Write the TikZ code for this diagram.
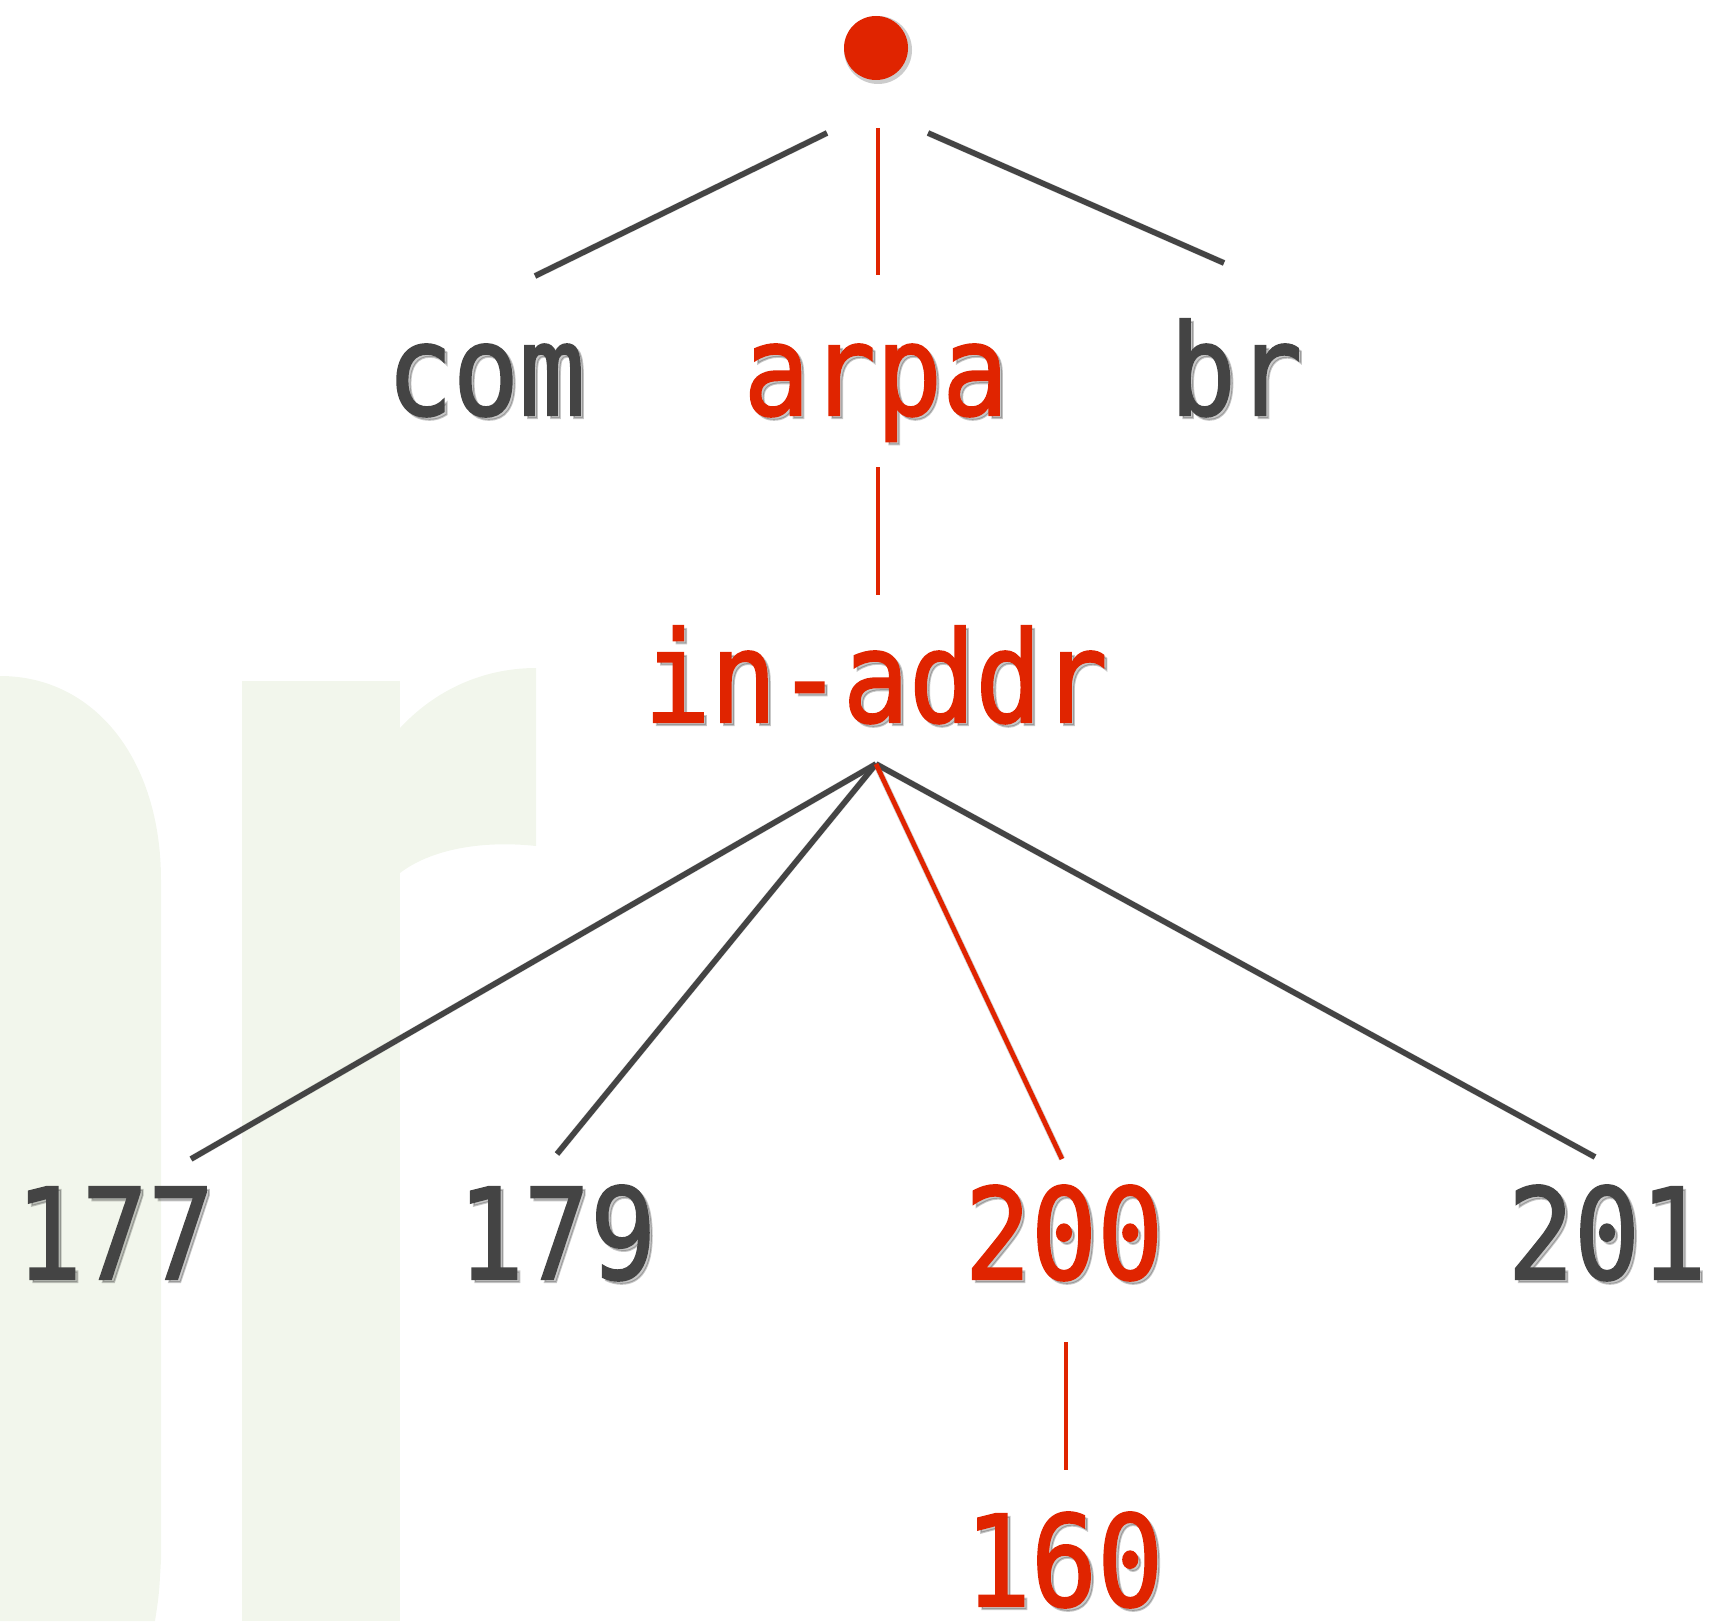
\documentclass[tikz,border=0pt]{standalone}
\usepackage{fontspec}
\newfontfamily\labelfont[RawFeature={embolden=1.6}]{DejaVu Sans Mono}
\definecolor{inkgray}{RGB}{68,68,68}
\definecolor{inkred}{RGB}{224,36,0}
\definecolor{wmgreen}{RGB}{242,246,236}
\tikzset{
  lbl/.style={anchor=base, inner sep=0pt, font=\labelfont\fontsize{55}{60}\selectfont},
  graylbl/.style={lbl, text=inkgray},
  redlbl/.style={lbl, text=inkred},
  shadowlbl/.style={lbl, text=black, opacity=0.22},
  edgegray/.style={draw=inkgray, line width=2.8pt},
  edgered/.style={draw=inkred, line width=2.4pt},
  edgeshadow/.style={draw=black, opacity=0.16, line width=3.2pt},
}
\newcommand{\tall}[1]{\scalebox{1}[1.15]{#1}}
\begin{document}
\begin{tikzpicture}[x=0.5pt,y=-0.5pt]
\useasboundingbox (0,0) rectangle (1711,1621);
% watermark
\fill[wmgreen] (0,676) .. controls (95,676) and (161,760) .. (161,880) -- (161,1560) .. controls (159,1595) .. (155,1621) -- (0,1621) -- cycle;
\fill[wmgreen] (242,681) rectangle (400,1621);
\fill[wmgreen] (400,728) .. controls (440,685) and (490,668) .. (536,668) -- (536,846) .. controls (480,840) and (430,850) .. (400,873) -- cycle;
% root
\node[circle, fill=black, opacity=0.2, minimum size=34pt, inner sep=0pt] (rootshadow) at (878,50) {};
\node[circle, fill=inkred, minimum size=32pt, inner sep=0pt] (root) at (876,48) {};
% labels: shadows
\node[shadowlbl] (scom) at (489,418) {\tall{com}};
\node[shadowlbl] (sarpa) at (879,418) {\tall{arpa}};
\node[shadowlbl] (sbr) at (1239,418) {\tall{br}};
\node[shadowlbl] (sinaddr) at (879,725) {\tall{in-addr}};
\node[shadowlbl] (s177) at (118,1282) {\tall{177}};
\node[shadowlbl] (s179) at (560,1282) {\tall{179}};
\node[shadowlbl] (s200) at (1067,1282) {\tall{200}};
\node[shadowlbl] (s201) at (1610,1282) {\tall{201}};
\node[shadowlbl] (s160) at (1067,1609) {\tall{160}};
% labels
\node[graylbl] (com) at (486,415) {\tall{com}};
\node[redlbl] (arpa) at (876,415) {\tall{arpa}};
\node[graylbl] (br) at (1236,415) {\tall{br}};
\node[redlbl] (inaddr) at (876,722) {\tall{in-addr}};
\node[graylbl] (n177) at (115,1279) {\tall{177}};
\node[graylbl] (n179) at (557,1279) {\tall{179}};
\node[redlbl] (n200) at (1064,1279) {\tall{200}};
\node[graylbl] (n201) at (1607,1279) {\tall{201}};
\node[redlbl] (n160) at (1064,1606) {\tall{160}};
% connector end points
\coordinate (rc) at (827,133); \coordinate (cr) at (535,276);
\coordinate (ra) at (878,128); \coordinate (ar) at (878,275);
\coordinate (rb) at (928,133); \coordinate (br1) at (1224,263);
\coordinate (ai) at (878,467); \coordinate (ia) at (878,595);
\coordinate (apex) at (876,764);
\coordinate (e177) at (191,1159);
\coordinate (e179) at (557,1154);
\coordinate (e200) at (1062,1159);
\coordinate (e201) at (1595,1157);
\coordinate (t200) at (1066,1342); \coordinate (t160) at (1066,1470);
% shadows of connectors
\begin{scope}[shift={(3,3)}]
\draw[edgeshadow] (rc) -- (cr);
\draw[edgeshadow] (rb) -- (br1);
\draw[edgeshadow] (apex) -- (e177);
\draw[edgeshadow] (apex) -- (e179);
\draw[edgeshadow] (apex) -- (e200);
\draw[edgeshadow] (apex) -- (e201);
\end{scope}
% connectors
\draw[edgegray] (rc) -- (cr);
\draw[edgered] (ra) -- (ar);
\draw[edgegray] (rb) -- (br1);
\draw[edgered] (ai) -- (ia);
\draw[edgegray] (apex) -- (e177);
\draw[edgegray] (apex) -- (e179);
\draw[edgegray] (apex) -- (e201);
\draw[edgered] (apex) -- (e200);
\draw[edgered] (t200) -- (t160);
\end{tikzpicture}
\end{document}
